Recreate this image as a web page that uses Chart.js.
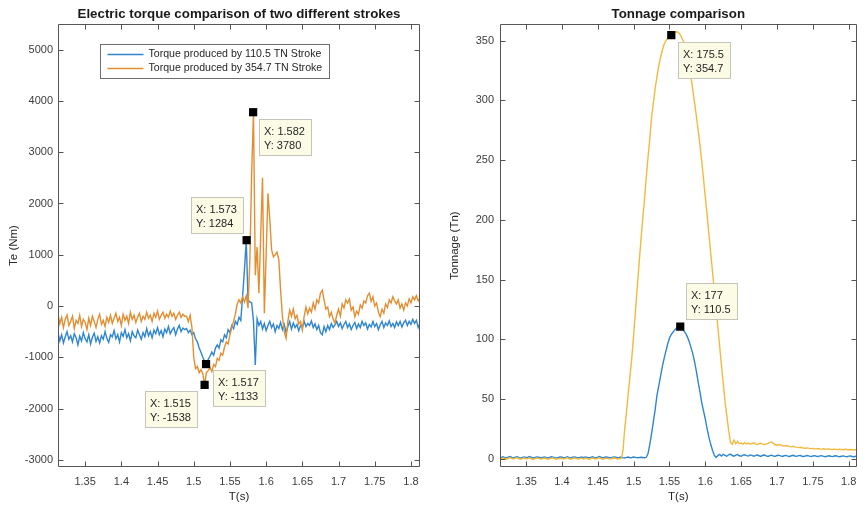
<!DOCTYPE html>
<html>
<head>
<meta charset="utf-8">
<title>Electric torque and tonnage comparison</title>
<script src="https://cdn.jsdelivr.net/npm/chart.js@4.4.1/dist/chart.umd.min.js"></script>
<style>
  html, body { margin: 0; padding: 0; background: #ffffff; }
  #wrap { position: relative; width: 865px; height: 506px; overflow: hidden; background: #ffffff; }
  canvas { position: absolute; top: 0; }
  #torque { left: 0; width: 432px; height: 506px; }
  #tonnage { left: 432px; width: 433px; height: 506px; }
</style>
</head>
<body>
<div id="wrap">
  <canvas id="torque" width="432" height="506"></canvas>
  <canvas id="tonnage" width="433" height="506"></canvas>
</div>
<script>
// ---- sampling grid: 201 samples, 2.5 ms apart, from 1.3125 s ----
const times = Array.from({ length: 201 }, (_, i) => +(1.3125 + 0.0025 * i).toFixed(4));

// ---- electric torque (Nm) ----
const torque110 = [
  -520,-680,-560,-720,-600,-500,-650,-580,-700,-540,
  -620,-760,-590,-680,-520,-640,-700,-560,-740,-610,
  -530,-690,-600,-720,-580,-650,-500,-630,-710,-560,
  -600,-480,-640,-560,-700,-520,-590,-460,-620,-540,
  -680,-500,-580,-620,-470,-560,-650,-520,-600,-440,
  -580,-500,-620,-470,-540,-420,-560,-480,-600,-450,
  -520,-400,-540,-470,-420,-560,-450,-380,-500,-430,
  -460,
  -440,-520,-470,-560,-520,-640,-700,-820,-900,-1000,
  -1080,-1133,-1040,-980,-900,-960,-820,-760,-820,-660,
  -700,-560,-620,-460,-520,-380,-440,-300,-360,-220,
  -280,200,700,1284,120,80,60,-300,-1150,
  -250,-380,-300,-450,-340,-480,-380,-300,-420,-350,
  -500,-380,-440,-320,-460,-360,-520,-400,-300,-450,
  -330,-420,-360,-480,-380,-420,-300,-400,-340,-380,
  -290,-420,-350,-460,-380,-520,-560,-400,-500,-380,
  -460,-340,-420,-370,-300,-400,-330,-440,-360,-300,
  -420,-350,-460,-380,-320,-440,-350,-420,-300,-380,
  -330,-450,-360,-410,-300,-400,-340,-460,-370,-300,
  -420,-330,-380,-290,-400,-340,-420,-310,-380,-300,
  -410,-330,-280,-380,-300,-360,-260,-340,-280,-420,
  -330
];
const torque354 = [
  -150,-350,-220,-420,-260,-180,-380,-300,-200,-440,
  -280,-340,-180,-400,-260,-320,-460,-240,-380,-200,
  -300,-420,-260,-160,-360,-280,-400,-220,-320,-180,
  -340,-240,-140,-300,-220,-380,-160,-280,-200,-340,
  -120,-260,-180,-320,-220,-140,-300,-200,-260,-120,
  -240,-180,-300,-140,-220,-100,-260,-180,-120,-240,
  -160,-220,-100,-200,-140,-260,-180,-120,-220,-160,
  -200,
  -200,-300,-180,-420,-1000,-1220,-1180,-1300,-1240,-1320,
  -1538,-1300,-1260,-1200,-1280,-1140,-1180,-1020,-1060,-920,
  -960,-800,-700,-740,-560,-420,-300,-160,40,120,
  60,180,80,200,-40,900,2600,3780,600,
  1150,250,1400,2500,-140,1000,2200,1700,1100,960,
  1000,1050,900,300,-210,-500,-630,-300,-80,-200,
  -60,-250,-180,-350,-300,-470,-200,-20,-150,-40,
  -120,60,-60,120,60,250,310,120,-60,-20,
  -210,-120,-260,-330,-180,-60,-200,40,-40,120,
  60,140,-80,-20,-210,-100,-160,20,-40,100,
  60,200,250,90,180,0,60,-120,-210,-60,
  -140,40,-30,120,60,180,100,40,120,-40,
  40,-80,60,0,140,60,180,120,200,100,
  160
];

// ---- tonnage (Tn) ----
const tonnage110 = [
  1.2,0.8,1.5,1.0,0.6,1.3,1.8,1.1,0.7,1.2,
  1.6,0.9,0.5,1.1,1.4,0.8,1.2,1.7,1.0,0.6,
  1.0,1.5,1.2,0.7,0.9,1.4,1.1,0.6,1.0,1.6,
  1.3,0.8,0.5,1.0,1.4,1.2,0.7,1.1,1.6,0.9,
  0.6,1.2,1.5,1.0,0.7,1.1,1.3,0.8,1.4,1.0,
  0.6,1.0,1.5,1.1,0.8,1.3,1.7,1.0,0.6,1.2,
  1.4,0.9,0.7,1.1,1.5,1.2,0.8,1.0,1.4,0.9,
  0.6,1.1,1.3,0.8,1.0,1.4,1.1,0.7,0.9,1.2,
  1.0,0.8,
  1.0,4,12,21,31,41,53,61,69,77,
  84,90,96,101,104,106,108,109.5,110.2,110.5,
  109,107,105,102,98,93,88,81,73,64,
  56,47,40,33,25,18,12,7,3,1,
  2.5,3.5,2.2,3.6,2.8,2.0,3.2,3.8,2.6,2.1,
  3.0,3.4,2.4,2.0,2.9,3.3,2.5,2.2,3.1,2.7,
  2.0,2.6,3.2,2.4,1.9,2.8,3.0,2.3,1.8,2.5,
  2.9,2.2,1.9,2.6,2.9,2.3,1.8,2.4,2.7,2.1,
  1.8,2.4,2.8,2.2,1.9,2.5,2.6,2.0,1.8,2.3,
  2.6,2.1,1.7,2.2,2.5,2.0,1.8,2.3,2.5,1.9,
  1.6,2.1,2.4,2.0,1.7,2.2,2.4,1.9,1.6,2.0,
  2.3,1.9,1.6,2.1,2.2,1.8,1.6,2.0,2.1
];
const tonnage354 = [
  0.2,-0.3,0.5,0.1,-0.5,0.3,0.8,0.0,-0.4,0.4,
  0.7,-0.1,-0.6,0.2,0.5,-0.2,0.1,0.6,-0.3,-0.7,
  0.0,0.4,0.2,-0.4,-0.1,0.5,0.1,-0.5,-0.2,0.3,
  0.6,-0.1,-0.6,-0.2,0.3,0.1,-0.4,0.2,0.7,-0.1,
  -0.5,0.2,0.5,0.0,-0.4,0.1,0.4,-0.2,0.3,0.0,
  -0.6,-0.1,0.4,0.1,-0.3,0.3,0.6,-0.1,-0.5,0.2,
  0.4,-0.2,-0.4,0.1,0.5,0.2,-0.3,0.0,
  0,6,25,39,55,70,85,104,124,143,
  163,182,200,216,235,252,268,286,298,310,
  320,329,336,342,347,350,352,354,354.7,356,
  357,357.5,357,355,352,349,343,336,328,319,
  309,298,287,275,263,249,234,219,204,188,
  172,157,141,126,110,94,78,63,48,36,
  24,14,12,15.5,12.5,14.5,12.5,13,
  12.2,13.5,12.4,13.0,12.0,12.6,13.2,12.3,11.8,12.5,
  12.9,12.1,11.7,12.3,12.8,13.6,14.0,12.8,11.6,11.2,
  11.8,11.4,10.8,10.5,11.0,10.6,10.1,9.9,10.3,9.8,
  9.4,9.2,9.5,9.1,8.8,8.7,9.0,8.6,8.4,8.6,
  8.3,8.2,8.5,8.1,8.0,8.3,8.0,7.9,8.2,7.8,
  7.7,8.0,7.8,7.6,7.9,7.6,7.5,7.8,7.6,7.4,
  7.6,7.5,7.3,7.5,7.4
];

// ---- data tips ----
const torqueTipTimes  = [1.515, 1.517, 1.573, 1.582];
const torqueTipValues = [-1538, -1133, 1284, 3780];
const tonnageTipReadX = [175.5, 177];      // X readout shown in the tip
const tonnageTipTimes = [1.5525, 1.565];
const tonnageTipValues = [354.7, 110.5];

// ---- tick labels ----
const timeTicks = [1.35, 1.4, 1.45, 1.5, 1.55, 1.6, 1.65, 1.7, 1.75, 1.8];
const timeTickLabels = ['1.35', '1.4', '1.45', '1.5', '1.55', '1.6', '1.65', '1.7', '1.75', '1.8'];
const torqueTicks = [-3000, -2000, -1000, 0, 1000, 2000, 3000, 4000, 5000];
const tonnageTicks = [0, 50, 100, 150, 200, 250, 300, 350];

// ---- styling ----
const FONT = "'Liberation Sans', Arial, Helvetica, sans-serif";
const BLUE = '#2f86cf';
const ORANGE = '#e38f31';
const YELLOW = '#f1ba3c';
const AXIS = '#555555';
const TEXT = '#3c3c3c';
const TICK_LEN = 5;

Chart.defaults.font.family = FONT;

const xy = (xs, ys) => xs.map((x, i) => ({ x: x, y: ys[i] }));
const useTicks = values => scale => { scale.ticks = values.map(v => ({ value: v })); };

// MATLAB-style box with inward tick marks on all four sides
const axesFrame = {
  id: 'axesFrame',
  afterDatasetsDraw(chart) {
    const { ctx, chartArea: a, scales: { x, y } } = chart;
    const L = Math.round(a.left) + 0.5, R = Math.round(a.right) - 0.5;
    const T = Math.round(a.top) + 0.5, B = Math.round(a.bottom) - 0.5;
    ctx.save();
    ctx.strokeStyle = AXIS;
    ctx.lineWidth = 1;
    ctx.beginPath();
    ctx.rect(L, T, R - L, B - T);
    x.ticks.forEach(t => {
      const px = Math.round(x.getPixelForValue(t.value)) + 0.5;
      ctx.moveTo(px, B); ctx.lineTo(px, B - TICK_LEN);
      ctx.moveTo(px, T); ctx.lineTo(px, T + TICK_LEN);
    });
    y.ticks.forEach(t => {
      const py = Math.round(y.getPixelForValue(t.value)) + 0.5;
      ctx.moveTo(L, py); ctx.lineTo(L + TICK_LEN, py);
      ctx.moveTo(R, py); ctx.lineTo(R - TICK_LEN, py);
    });
    ctx.stroke();
    ctx.restore();
  }
};

// boxed legend inside the axes
const boxLegend = {
  id: 'boxLegend',
  afterDatasetsDraw(chart, args, opts) {
    if (!opts || !opts.items) return;
    const { ctx, chartArea: a } = chart;
    ctx.save();
    ctx.font = '10.6px ' + FONT;
    const sets = opts.items.map(i => chart.data.datasets[i]);
    const textW = Math.max(...sets.map(d => ctx.measureText(d.label).width));
    const left = Math.round(a.left + opts.dx) + 0.5;
    const top = Math.round(a.top + opts.dy) + 0.5;
    const w = Math.round(48 + textW + 7), h = 34;
    ctx.fillStyle = '#ffffff';
    ctx.fillRect(left, top, w, h);
    ctx.strokeStyle = '#6e6e6e';
    ctx.lineWidth = 1;
    ctx.strokeRect(left, top, w, h);
    sets.forEach((d, k) => {
      const yy = top + 10 + 14 * k;
      ctx.strokeStyle = d.borderColor;
      ctx.lineWidth = 1.4;
      ctx.beginPath();
      ctx.moveTo(left + 7, yy);
      ctx.lineTo(left + 43, yy);
      ctx.stroke();
      ctx.fillStyle = '#262626';
      ctx.textBaseline = 'middle';
      ctx.textAlign = 'left';
      ctx.fillText(d.label, left + 48, yy);
    });
    ctx.restore();
  }
};

// data-tip boxes next to the marker points
const dataTips = {
  id: 'dataTips',
  afterDatasetsDraw(chart, args, opts) {
    if (!opts || !opts.lines) return;
    const meta = chart.getDatasetMeta(opts.datasetIndex);
    const ctx = chart.ctx;
    ctx.save();
    ctx.font = '11px ' + FONT;
    meta.data.forEach((pt, i) => {
      const lines = opts.lines[i];
      const p = opts.place[i];
      const w = Math.round(Math.max(...lines.map(s => ctx.measureText(s).width)) + 12);
      const h = 37;
      const left = Math.round(p.side === 'right' ? pt.x + p.gx : pt.x - p.gx - w);
      const top = Math.round(p.vert === 'below' ? pt.y + p.gy : pt.y - p.gy - h);
      ctx.fillStyle = '#fbfbe6';
      ctx.fillRect(left, top, w, h);
      ctx.strokeStyle = '#c4c4b8';
      ctx.lineWidth = 1;
      ctx.strokeRect(left + 0.5, top + 0.5, w - 1, h - 1);
      ctx.fillStyle = '#262626';
      ctx.textBaseline = 'middle';
      ctx.textAlign = 'left';
      ctx.fillText(lines[0], left + 5, top + 12.5);
      ctx.fillText(lines[1], left + 5, top + 26.5);
    });
    ctx.restore();
  }
};

function makeOptions(cfg) {
  return {
    responsive: false,
    animation: false,
    devicePixelRatio: 1,
    events: [],
    layout: { padding: { left: 0, right: cfg.padRight, top: 0, bottom: 0 } },
    elements: { point: { radius: 0 }, line: { borderWidth: 1.4, tension: 0 } },
    plugins: {
      legend: { display: false },
      tooltip: { enabled: false },
      title: {
        display: true,
        text: cfg.title,
        fullSize: false,
        color: '#1a1a1a',
        font: { size: 13.3, weight: 'bold', lineHeight: 1.13 },
        padding: { top: 6.5, bottom: 2.5 }
      },
      boxLegend: cfg.legend || {},
      dataTips: cfg.tips
    },
    scales: {
      x: {
        type: 'linear',
        min: cfg.xMin,
        max: cfg.xMax,
        grid: { display: false, drawTicks: false },
        border: { display: false },
        afterBuildTicks: useTicks(timeTicks),
        afterFit: s => { s.height = 39; },
        ticks: {
          autoSkip: false,
          maxRotation: 0,
          padding: 8.5,
          color: TEXT,
          font: { size: 11 },
          callback: (v, i) => timeTickLabels[i]
        },
        title: {
          display: true,
          text: 'T(s)',
          color: '#262626',
          font: { size: 11.5 },
          padding: { top: 0, bottom: 2.4 }
        }
      },
      y: {
        type: 'linear',
        min: cfg.yMin,
        max: cfg.yMax,
        grid: { display: false, drawTicks: false },
        border: { display: false },
        afterBuildTicks: useTicks(cfg.yTicks),
        afterFit: s => { s.width = cfg.yWidth; },
        ticks: {
          autoSkip: false,
          padding: cfg.yPad,
          color: TEXT,
          font: { size: 11 },
          callback: v => String(v)
        },
        title: {
          display: true,
          text: cfg.yTitle,
          color: '#262626',
          font: { size: 11.5 },
          padding: { top: cfg.yTitlePad, bottom: 0 }
        }
      }
    }
  };
}

// black square markers, drawn above both curves
const markerStyle = {
  type: 'line',
  order: 0,
  showLine: false,
  pointStyle: 'rect',
  pointRadius: 5.8,
  pointBackgroundColor: '#000000',
  pointBorderColor: '#000000',
  pointBorderWidth: 0,
  borderColor: '#000000',
  backgroundColor: '#000000'
};

// ---- left: electric torque ----
new Chart(document.getElementById('torque'), {
  type: 'line',
  data: {
    datasets: [
      { label: 'Torque produced by 110.5 TN Stroke', order: 2, data: xy(times, torque110), borderColor: BLUE, backgroundColor: BLUE },
      { label: 'Torque produced by 354.7 TN Stroke', order: 1, data: xy(times, torque354), borderColor: ORANGE, backgroundColor: ORANGE },
      Object.assign({ label: 'tips', data: xy(torqueTipTimes, torqueTipValues) }, markerStyle)
    ]
  },
  options: makeOptions({
    title: 'Electric torque comparison of two different strokes',
    padRight: 12,
    xMin: 1.3125, xMax: 1.8125,
    yMin: -3140, yMax: 5500,
    yTicks: torqueTicks,
    yWidth: 58, yPad: 5, yTitle: 'Te (Nm)', yTitlePad: 7.4,
    legend: { items: [0, 1], dx: 42, dy: 20 },
    tips: {
      datasetIndex: 2,
      lines: torqueTipTimes.map((t, i) => ['X: ' + t, 'Y: ' + torqueTipValues[i]]),
      place: [
        { side: 'left',  gx: 7, vert: 'below', gy: 6 },
        { side: 'right', gx: 7, vert: 'below', gy: 6 },
        { side: 'left',  gx: 3, vert: 'above', gy: 6 },
        { side: 'right', gx: 6, vert: 'below', gy: 7 }
      ]
    }
  }),
  plugins: [axesFrame, boxLegend, dataTips]
});

// ---- right: tonnage ----
new Chart(document.getElementById('tonnage'), {
  type: 'line',
  data: {
    datasets: [
      { label: '110.5 TN Stroke', order: 2, data: xy(times, tonnage110), borderColor: BLUE, backgroundColor: BLUE },
      { label: '354.7 TN Stroke', order: 1, data: xy(times, tonnage354), borderColor: YELLOW, backgroundColor: YELLOW },
      Object.assign({ label: 'tips', data: xy(tonnageTipTimes, tonnageTipValues) }, markerStyle)
    ]
  },
  options: makeOptions({
    title: 'Tonnage comparison',
    padRight: 1,
    xMin: 1.3135, xMax: 1.811,
    yMin: -7, yMax: 364,
    yTicks: tonnageTicks,
    yWidth: 68, yPad: 6, yTitle: 'Tonnage (Tn)', yTitlePad: 16.4,
    tips: {
      datasetIndex: 2,
      lines: tonnageTipReadX.map((x, i) => ['X: ' + x, 'Y: ' + tonnageTipValues[i]]),
      place: [
        { side: 'right', gx: 7, vert: 'below', gy: 7 },
        { side: 'right', gx: 6, vert: 'above', gy: 7 }
      ]
    }
  }),
  plugins: [axesFrame, dataTips]
});
</script>
</body>
</html>
